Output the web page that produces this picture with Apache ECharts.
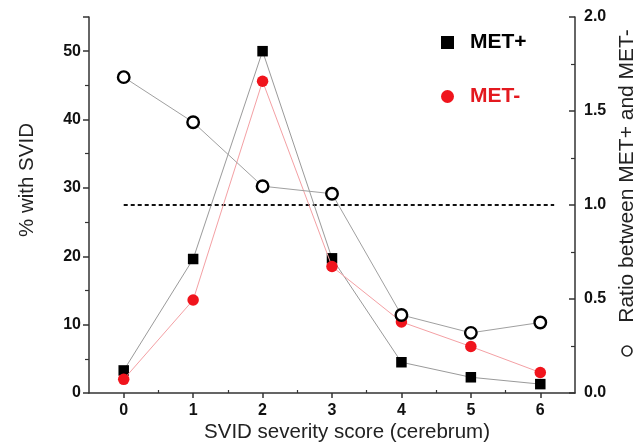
<!DOCTYPE html>
<html><head><meta charset="utf-8">
<script src="https://cdn.jsdelivr.net/npm/echarts@6/dist/echarts.min.js"></script>
<style>html,body{margin:0;padding:0;background:#fff}#c{width:642px;height:446px}</style>
</head><body><div id="c"></div>
<script>
const categories = [0, 1, 2, 3, 4, 5, 6];
const metPlus = [3.3, 19.6, 50.0, 19.7, 4.5, 2.3, 1.3];
const metMinus = [2.0, 13.6, 45.6, 18.5, 10.4, 6.8, 3.0];
const ratio = [1.68, 1.44, 1.10, 1.06, 0.415, 0.32, 0.375];
const refLineX = [0, 6.2];
const refLineY = [1.0, 1.0];
const xMinorTicks = [0.5, 1.5, 2.5, 3.5, 4.5, 5.5];

const font = 'Liberation Sans, Arial, sans-serif';
const chart = echarts.init(document.getElementById('c'), null, {renderer: 'canvas'});
const pair = (xs, ys) => xs.map((x, i) => [x, ys[i]]);
const axisColor = '#333';

chart.setOption({
  animation: false,
  backgroundColor: '#fff',
  grid: {left: 89, right: 67, top: 17, bottom: 53},
  legend: {
    orient: 'vertical', left: 436, top: 27, itemGap: 33, itemWidth: 13, itemHeight: 13,
    data: [
      {name: 'MET+', icon: 'rect', textStyle: {color: '#000'}},
      {name: 'MET-', icon: 'circle', textStyle: {color: '#e3191f'}}
    ],
    textStyle: {fontFamily: font, fontSize: 21, fontWeight: 'bold', padding: [0, 0, 0, 11]}
  },
  xAxis: [{
    type: 'value', min: -0.5, max: 6.5,
    axisLine: {lineStyle: {color: axisColor, width: 1.5}},
    axisTick: {show: true, length: 5, customValues: categories, lineStyle: {color: axisColor, width: 1.5}},
    axisLabel: {customValues: categories, fontFamily: font, fontSize: 16, fontWeight: 'bold', color: '#111', margin: 10},
    splitLine: {show: false}
  }, {
    type: 'value', min: -0.5, max: 6.5, position: 'bottom',
    axisLine: {show: false},
    axisTick: {show: true, inside: true, length: 3, customValues: xMinorTicks, lineStyle: {color: axisColor, width: 1.2}},
    axisLabel: {show: false},
    splitLine: {show: false}
  }],
  yAxis: [{
    type: 'value', min: 0, max: 55, interval: 10,
    axisLine: {show: true, onZero: false, lineStyle: {color: axisColor, width: 1.5}},
    axisTick: {show: true, length: 6, lineStyle: {color: axisColor, width: 1.5}},
    minorTick: {show: true, splitNumber: 2, length: 4, lineStyle: {color: axisColor, width: 1.2}},
    axisLabel: {fontFamily: font, fontSize: 16, fontWeight: 'bold', color: '#111', margin: 8,
      formatter: v => (v % 10 === 0 ? String(v) : '')},
    splitLine: {show: false}
  }, {
    type: 'value', min: 0, max: 2, interval: 0.5, position: 'right',
    axisLine: {show: true, onZero: false, lineStyle: {color: axisColor, width: 1.5}},
    axisTick: {show: true, inside: true, length: 6, lineStyle: {color: axisColor, width: 1.5}},
    minorTick: {show: true, splitNumber: 2, length: 4, lineStyle: {color: axisColor, width: 1.2}},
    axisLabel: {fontFamily: font, fontSize: 16, fontWeight: 'bold', color: '#111', margin: 9,
      formatter: v => v.toFixed(1)},
    splitLine: {show: false}
  }],
  graphic: [{
    type: 'text', x: 27, y: 180, rotation: Math.PI / 2,
    style: {text: '% with SVID', fontFamily: font, fontSize: 20.5, fill: '#222',
      align: 'center', verticalAlign: 'middle'}
  }, {
    type: 'text', x: 627, y: 176, rotation: Math.PI / 2,
    style: {text: 'Ratio between MET+ and MET-', fontFamily: font, fontSize: 21, fill: '#222',
      align: 'center', verticalAlign: 'middle'}
  }, {
    type: 'circle', shape: {cx: 627, cy: 351, r: 5},
    style: {fill: '#fff', stroke: '#222', lineWidth: 1.6}
  }, {
    type: 'text', x: 347, y: 432,
    style: {text: 'SVID severity score (cerebrum)', fontFamily: font, fontSize: 20.5, fill: '#222',
      align: 'center', verticalAlign: 'middle'}
  }],
  series: [{
    name: 'ref', type: 'line', xAxisIndex: 0, yAxisIndex: 1, data: pair(refLineX, refLineY),
    symbol: 'none', silent: true,
    lineStyle: {color: '#111', width: 2, type: [4, 3]}, z: 1
  }, {
    name: 'MET+', type: 'line', xAxisIndex: 0, yAxisIndex: 0, data: pair(categories, metPlus),
    symbol: 'rect', symbolSize: 10.5,
    itemStyle: {color: '#000'}, lineStyle: {color: '#9a9a9a', width: 1}, z: 2
  }, {
    name: 'MET-', type: 'line', xAxisIndex: 0, yAxisIndex: 0, data: pair(categories, metMinus),
    symbol: 'circle', symbolSize: 11.5,
    itemStyle: {color: '#f0141c'}, lineStyle: {color: '#f4a0a4', width: 1}, z: 3
  }, {
    name: 'Ratio', type: 'line', xAxisIndex: 0, yAxisIndex: 1, data: pair(categories, ratio),
    symbol: 'circle', symbolSize: 11.5,
    itemStyle: {color: '#fff', borderColor: '#000', borderWidth: 2.4}, lineStyle: {color: '#a0a0a0', width: 1}, z: 4
  }]
});
</script></body></html>
